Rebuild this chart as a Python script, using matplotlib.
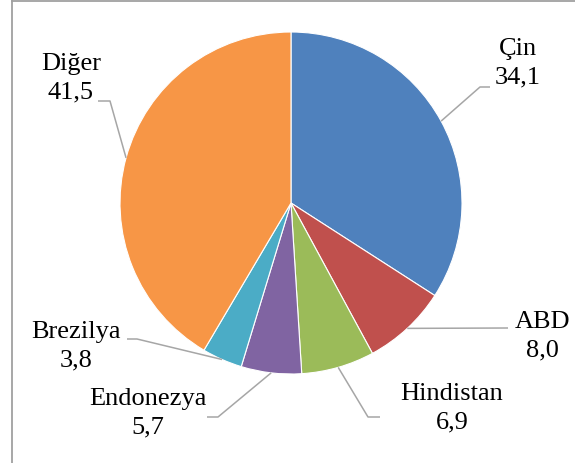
import numpy as np
import matplotlib
matplotlib.use("Agg")
import matplotlib.pyplot as plt

plt.rcParams["font.family"] = ["Liberation Serif", "DejaVu Serif"]

categories = ["Çin", "ABD", "Hindistan", "Endonezya", "Brezilya", "Diğer"]
values = [34.1, 8.0, 6.9, 5.7, 3.8, 41.5]
value_labels = ["34,1", "8,0", "6,9", "5,7", "3,8", "41,5"]
colors = ["#4F81BD", "#C0504D", "#9BBB59", "#8064A2", "#4BACC6", "#F79646"]

W, H = 575, 463
fig = plt.figure(figsize=(W / 100, H / 100), dpi=100)
ax = fig.add_axes([0, 0, 1, 1])

cx, cy, R = 291, H - 203, 171
wedges, _ = ax.pie(values, colors=colors, startangle=90, counterclock=False,
                   center=(cx, cy), radius=R,
                   wedgeprops=dict(edgecolor="white", linewidth=0.8))
ax.set_xlim(0, W)
ax.set_ylim(0, H)
ax.set_aspect("equal")
ax.axis("off")

# label layout: text center (px, y-down), elbow (px), line end x
label_pos = [(518, 63), (542, 336), (452, 408), (148, 413), (76, 346), (71, 78)]
elbows = [(480, 87), (508, 328), (368, 417), (218, 417), (137, 339), (110, 101)]
ends_x = [490, 508, 380, 207, 127, 98]

for w, cat, vl, (tx, ty), (ex, ey), endx in zip(wedges, categories, value_labels,
                                                  label_pos, elbows, ends_x):
    mid = np.deg2rad((w.theta1 + w.theta2) / 2)
    px = cx + R * np.cos(mid)
    py = cy + R * np.sin(mid)
    ax.plot([px, ex, endx], [py, H - ey, H - ey], color="#A6A6A6", lw=1.1,
            solid_capstyle="butt", zorder=1)
    ax.text(tx, H - ty, f"{cat}\n{vl}", ha="center", va="center",
            fontsize=19, color="black", linespacing=1.4)

# chart border (left and top visible)
ax.plot([12, 12], [0, H - 1], color="#A0A0A0", lw=1.3, clip_on=False)
ax.plot([12, W], [H - 1, H - 1], color="#A0A0A0", lw=1.3, clip_on=False)

fig.savefig("out.png", dpi=100)
